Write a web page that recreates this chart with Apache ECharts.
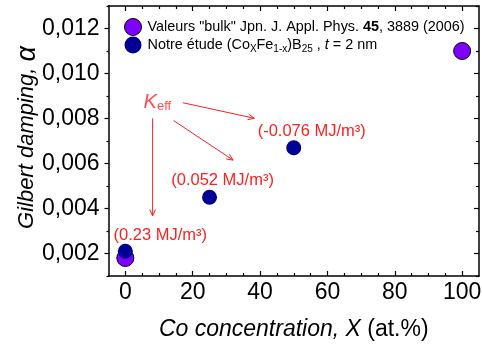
<!DOCTYPE html>
<html>
<head>
<meta charset="utf-8">
<script src="https://cdn.jsdelivr.net/npm/echarts@6/dist/echarts.min.js"></script>
<style>html,body{margin:0;padding:0;background:#fff}#c{width:482px;height:344px}</style>
</head>
<body>
<div id="c"></div>
<script>
// ---- data ----
const bulkX = [0, 100];
const bulkY = [0.0018, 0.0110];
const etudeX = [0, 25, 50];
const etudeY = [0.0021, 0.0045, 0.0067];
const keffLabels = ['(0.23 MJ/m³)', '(0.052 MJ/m³)', '(-0.076 MJ/m³)'];
const xMajorTicks = [0, 20, 40, 60, 80, 100];
const xMinorTicks = [5, 10, 15, 25, 30, 35, 45, 50, 55, 65, 70, 75, 85, 90, 95];
const yMajorTicks = [0.002, 0.004, 0.006, 0.008, 0.010, 0.012];
const yMinorTicks = [0.001, 0.003, 0.005, 0.007, 0.009, 0.011, 0.013];
// annotation arrows in data space: [x1, y1, x2, y2]
const arrows = [
  [17.1, 0.00870, 38.3, 0.00801],
  [14.3, 0.00791, 32.0, 0.00615],
  [8.1, 0.00801, 8.1, 0.00367]
];
const keffAnchor = [[9.5, 0.00871]];

// ---- styles ----
const FONT = '"Liberation Sans", Arial, sans-serif';
const RED = '#ff1f1f';
const labelOffsets = [[35, -16], [13, -17], [18, -16]];

const chart = echarts.init(document.getElementById('c'));

function xAxisDef(pos, values, len, withLabels, withLine) {
  return {
    type: 'value', position: pos, min: -5, max: 105,
    axisLine: {show: withLine, onZero: false, lineStyle: {color: '#000', width: 1.5}},
    axisTick: {show: true, inside: true, length: len, customValues: values, lineStyle: {color: '#000', width: 1.2}},
    axisLabel: withLabels ? {show: true, customValues: values, fontSize: 23, color: '#000', fontFamily: FONT, margin: 5} : {show: false},
    splitLine: {show: false}
  };
}
function yAxisDef(pos, values, len, inside, withLabels, withLine) {
  return {
    type: 'value', position: pos, min: 0.001, max: 0.013,
    axisLine: {show: withLine, onZero: false, lineStyle: {color: '#000', width: 1.5}},
    axisTick: {show: true, inside: inside, length: len, customValues: values, lineStyle: {color: '#000', width: 1.2}},
    axisLabel: withLabels ? {show: true, customValues: values, fontSize: 23, color: '#000', fontFamily: FONT, margin: 9,
      formatter: v => v.toFixed(3).replace('.', ',')} : {show: false},
    splitLine: {show: false}
  };
}

const xAxes = [
  xAxisDef('bottom', xMajorTicks, 5, true, true),
  xAxisDef('bottom', xMinorTicks, 3, false, false),
  xAxisDef('top', xMajorTicks, 5, false, true),
  xAxisDef('top', xMinorTicks, 3, false, false)
];
Object.assign(xAxes[0], {
  name: '{i|Co concentration, X }{n|(at.%)}', nameLocation: 'middle', nameGap: 42, nameMoveOverlap: false,
  nameTextStyle: {rich: {
    i: {fontSize: 23, fontStyle: 'italic', fontFamily: FONT, color: '#000'},
    n: {fontSize: 23, fontFamily: FONT, color: '#000'}
  }}
});
const yAxes = [
  yAxisDef('left', yMajorTicks, 4, false, true, true),
  yAxisDef('left', yMinorTicks, 2, false, false, false),
  yAxisDef('right', yMajorTicks, 5, true, false, true),
  yAxisDef('right', yMinorTicks, 3, true, false, false)
];
Object.assign(yAxes[0], {
  name: '{i|Gilbert damping, }{a|α}', nameLocation: 'middle', nameGap: 68, nameMoveOverlap: false,
  nameTextStyle: {padding: [0, 0, 0, 7], rich: {
    i: {fontSize: 22, fontStyle: 'italic', fontFamily: FONT, color: '#000'},
    a: {fontSize: 27, fontStyle: 'italic', fontFamily: FONT, color: '#000'}
  }}
});

const legendText = {
  'bulk': 'Valeurs "bulk" Jpn. J. Appl. Phys. {b|45}, 3889 (2006)',
  'etude': 'Notre étude (Co{s|X}Fe{s|1-x})B{s|25} , {i|t} = 2 nm'
};

chart.setOption({
  animation: false,
  backgroundColor: '#fff',
  grid: {left: 108.5, right: 3, top: 6, bottom: 68, containLabel: false, outerBoundsMode: 'none'},
  xAxis: xAxes,
  yAxis: yAxes,
  legend: {
    data: ['bulk', 'etude'], orient: 'vertical', left: 119, top: 13,
    itemWidth: 17, itemHeight: 17, itemGap: 0.5,
    itemStyle: {borderWidth: 1},
    formatter: n => legendText[n],
    textStyle: {fontSize: 14.4, fontFamily: FONT, color: '#000', padding: [0, 0, 0, 1],
      rich: {
        b: {fontSize: 14.4, fontWeight: 'bold', fontFamily: FONT, color: '#000'},
        s: {fontSize: 10, fontFamily: FONT, color: '#000', padding: [8, 0, 0, 0]},
        i: {fontSize: 14.4, fontStyle: 'italic', fontFamily: FONT, color: '#000'}
      }}
  },
  series: [
    {
      name: 'bulk', type: 'scatter', xAxisIndex: 0, yAxisIndex: 0,
      data: bulkX.map((x, i) => [x, bulkY[i]]),
      symbol: 'circle', symbolSize: 17,
      itemStyle: {color: '#8000ff', borderColor: '#000', borderWidth: 1, opacity: 1},
      z: 3
    },
    {
      name: 'etude', type: 'scatter', xAxisIndex: 0, yAxisIndex: 0,
      data: etudeX.map((x, i) => ({
        value: [x, etudeY[i]],
        label: {offset: labelOffsets[i]}
      })),
      symbol: 'circle', symbolSize: 15,
      itemStyle: {color: '#000094', opacity: 1},
      label: {show: true, position: 'inside', fontSize: 16.5, fontFamily: FONT, color: RED,
        formatter: p => keffLabels[p.dataIndex]},
      z: 4
    },
    {
      name: 'arrows', type: 'custom', xAxisIndex: 0, yAxisIndex: 0, silent: true,
      encode: {x: [0, 2], y: [1, 3]},
      data: arrows,
      renderItem: (params, api) => {
        const a = api.coord([api.value(0), api.value(1)]);
        const b = api.coord([api.value(2), api.value(3)]);
        const ang = Math.atan2(b[1] - a[1], b[0] - a[0]);
        const L = 7, w = 0.42;
        const h1 = [b[0] - L * Math.cos(ang - w), b[1] - L * Math.sin(ang - w)];
        const h2 = [b[0] - L * Math.cos(ang + w), b[1] - L * Math.sin(ang + w)];
        return {type: 'group', children: [
          {type: 'line', shape: {x1: a[0], y1: a[1], x2: b[0], y2: b[1]}, style: {stroke: RED, lineWidth: 1}},
          {type: 'polyline', shape: {points: [h1, b, h2]}, style: {stroke: RED, fill: null, lineWidth: 1}}
        ]};
      },
      z: 5
    },
    {
      name: 'keff', type: 'scatter', xAxisIndex: 0, yAxisIndex: 0, silent: true,
      data: keffAnchor, symbolSize: 0,
      label: {show: true, position: 'inside', formatter: '{k|K}{e|eff}',
        rich: {
          k: {fontSize: 20, fontStyle: 'italic', fontFamily: FONT, color: RED},
          e: {fontSize: 13, fontFamily: FONT, color: RED, padding: [8, 0, 0, 0]}
        }},
      z: 5
    }
  ]
});
</script>
</body>
</html>
